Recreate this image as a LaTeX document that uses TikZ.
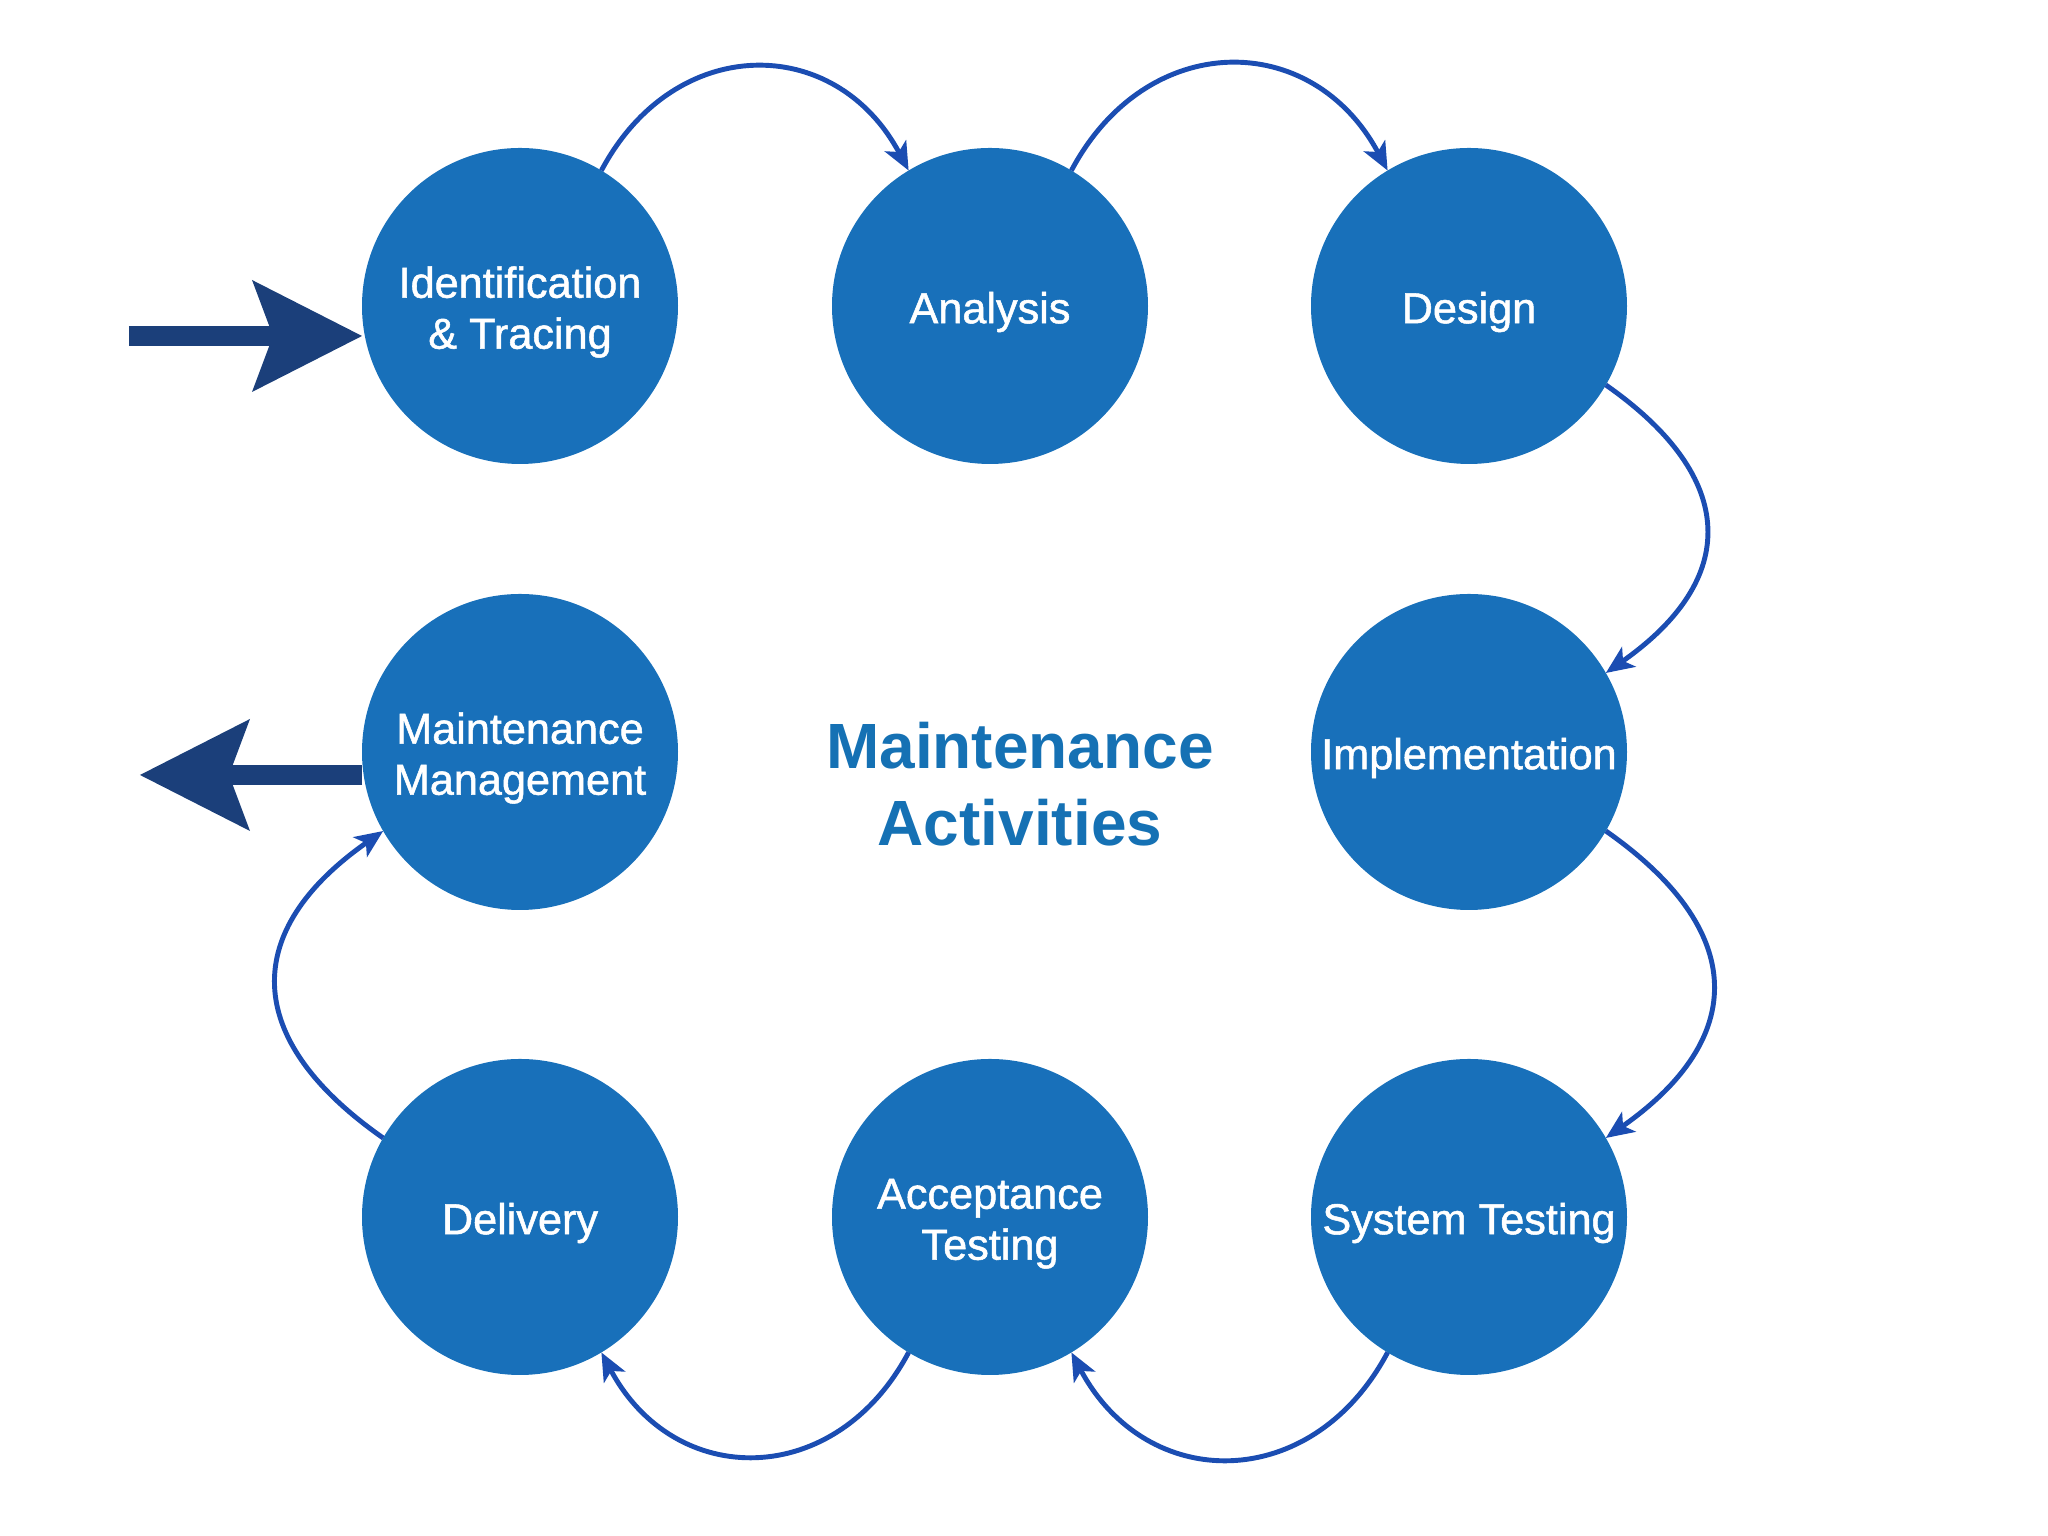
\documentclass[tikz,border=0pt]{standalone}
\usepackage{fontspec}
\setmainfont{Liberation Sans}
\newfontfamily\stepfont[BoldFont={Liberation Sans}, BoldFeatures={FakeBold=1.2}]{Liberation Sans}
\usepackage{tikz}
\usetikzlibrary{arrows.meta, positioning, calc}
\definecolor{StepBlue}{HTML}{1870BA}
\definecolor{FlowBlue}{HTML}{1B4DB2}
\definecolor{NavyArrow}{HTML}{1B3F7A}
\definecolor{TitleBlue}{HTML}{1571B4}
\newcommand{\steptext}[1]{\raisebox{-2pt}[\height][\depth]{\begin{tabular}{@{}c@{}}#1\end{tabular}}}

\begin{document}
\begin{tikzpicture}[
        stepnode/.style={circle, fill=StepBlue, minimum size=3.16cm, inner sep=0pt, outer sep=0pt,
            text=white, font=\stepfont\bfseries\fontsize{12.3}{14.5}\selectfont},
        flow/.style={-{Stealth[length=0.28cm, width=0.24cm, inset=0.07cm]}, color=FlowBlue, line width=1.4pt},
        bigarrow/.style={-{Stealth[length=1.10cm, width=1.12cm, inset=0.21cm, line width=0pt]},
            color=NavyArrow, line width=0.2cm}
    ]
    \useasboundingbox (0,0) rectangle (20.48,15.36);

    % 1. Activity circles (clockwise from the entry point)
    \node[stepnode] (ident)    at (5.20, 12.30) {\steptext{Identification\\\& Tracing}};
    \node[stepnode] (analysis) at (9.90, 12.30) {\steptext{Analysis}};
    \node[stepnode] (design)   at (14.69, 12.30) {\steptext{Design}};
    \node[stepnode] (impl)     at (14.69, 7.84) {\steptext{Implementation}};
    \node[stepnode] (systest)  at (14.69, 3.19) {\steptext{System Testing}};
    \node[stepnode] (accept)   at (9.90, 3.19) {\steptext{Acceptance\\Testing}};
    \node[stepnode] (delivery) at (5.20, 3.19) {\steptext{Delivery}};
    \node[stepnode] (mgmt)     at (5.20, 7.84) {\steptext{Maintenance\\Management}};

    % 2. Centre title
    \node[font=\bfseries\fontsize{18.2}{22}\selectfont, text=TitleBlue, align=center] (title)
        at (10.20, 7.52) {Maintenance\\Activities};

    % 3. Entry and exit arrows
    \coordinate (entry) at (1.29, 12.00);
    \coordinate (exit) at (1.40, 7.61);
    \draw[bigarrow] (entry) -- (entry -| ident.west);
    \draw[bigarrow] (mgmt.west |- exit) -- (exit);

    % 4. Curved flow between the activities
    \draw[flow] (ident.59) to[out=62, in=118, looseness=1.3] (analysis.121);
    \draw[flow] (analysis.59) to[out=62, in=118, looseness=1.3] (design.121);
    \draw[flow] (design.-30) to[out=-35, in=35, looseness=1.45] (impl.30);
    \draw[flow] (impl.-30) to[out=-35, in=35, looseness=1.45] (systest.30);
    \draw[flow] (systest.-121) to[out=-118, in=-62, looseness=1.3] (accept.-59);
    \draw[flow] (accept.-121) to[out=-118, in=-62, looseness=1.3] (delivery.-59);
    \draw[flow] (delivery.150) to[out=145, in=-145, looseness=1.45] (mgmt.210);
\end{tikzpicture}
\end{document}
